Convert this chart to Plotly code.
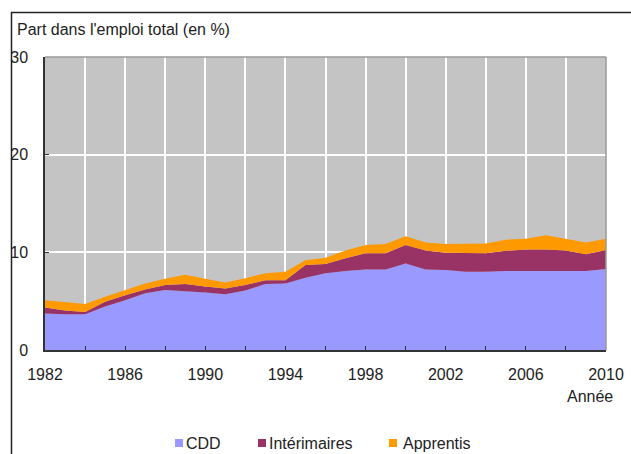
import plotly.graph_objects as go

years = list(range(1982, 2011))
cdd = [3.75, 3.65, 3.65, 4.45, 5.1, 5.8, 6.15, 6.05, 5.9, 5.7, 6.1, 6.75, 6.8, 7.4, 7.85,
       8.1, 8.25, 8.25, 8.85, 8.25, 8.2, 8.0, 8.0, 8.1, 8.1, 8.1, 8.1, 8.1, 8.3]
interim = [0.6, 0.4, 0.25, 0.5, 0.5, 0.4, 0.5, 0.7, 0.6, 0.6, 0.55, 0.4, 0.35, 1.3, 0.95,
           1.3, 1.65, 1.65, 1.9, 1.95, 1.75, 1.9, 1.9, 2.05, 2.2, 2.2, 2.1, 1.7, 1.95]
apprentis = [0.75, 0.85, 0.8, 0.5, 0.55, 0.6, 0.65, 0.95, 0.8, 0.6, 0.7, 0.7, 0.85, 0.5, 0.65,
             0.8, 0.85, 0.95, 0.9, 0.8, 0.9, 0.95, 1.0, 1.15, 1.1, 1.45, 1.2, 1.2, 1.15]

series_names = ["CDD", "Intérimaires", "Apprentis"]
series_colors = ["#9999FF", "#993366", "#FF9900"]
series_values = [cdd, interim, apprentis]

FONT = "Liberation Sans, Arial, sans-serif"
FS = 16
TXT = "#222222"
W, H = 631, 454
L, R, T, B = 45, 25, 57, 104
PW, PH = W - L - R, H - T - B

def px(x):
    return (x - L) / PW

def py(y):
    return (H - B - y) / PH

fig = go.Figure()
for name, color, vals in zip(series_names, series_colors, series_values):
    fig.add_trace(go.Scatter(
        x=years, y=vals, name=name, mode="lines", stackgroup="one",
        line=dict(width=0, color=color), fillcolor=color, showlegend=False,
        hoverinfo="x+y+name",
    ))

shapes = [
    # outer frame (top and left)
    dict(type="rect", xref="paper", yref="paper", x0=px(11.5), x1=px(700), y0=py(12.5), y1=py(520),
         line=dict(color="#222222", width=1.5), fillcolor="rgba(0,0,0,0)", layer="below"),
    # plot border top/right
    dict(type="line", xref="paper", yref="paper", x0=0, x1=1, y0=1, y1=1,
         line=dict(color="#9a9a9a", width=1.5), layer="above"),
    dict(type="line", xref="paper", yref="paper", x0=1, x1=1, y0=0, y1=1,
         line=dict(color="#9a9a9a", width=1.5), layer="above"),
]

annotations = [
    dict(text="Part dans l'emploi total (en %)", xref="paper", yref="paper",
         x=px(15), y=py(30), xanchor="left", yanchor="middle", showarrow=False,
         font=dict(family=FONT, size=FS, color=TXT)),
    dict(text="Année", xref="paper", yref="paper",
         x=px(615), y=py(396), xanchor="right", yanchor="middle", showarrow=False,
         font=dict(family=FONT, size=FS, color=TXT)),
]

legend_sq = [175, 258, 389]
legend_tx = [184, 267, 401]
for name, color, sx, tx in zip(series_names, series_colors, legend_sq, legend_tx):
    shapes.append(dict(type="rect", xref="paper", yref="paper",
                       x0=px(sx), x1=px(sx + 8), y0=py(447), y1=py(439),
                       fillcolor=color, line=dict(width=0)))
    annotations.append(dict(text=name, xref="paper", yref="paper",
                            x=px(tx), y=py(443), xanchor="left", yanchor="middle",
                            showarrow=False,
                            font=dict(family=FONT, size=FS, color=TXT)))

fig.update_layout(
    width=W, height=H,
    margin=dict(l=L, r=R, t=T, b=B, pad=0, autoexpand=False),
    paper_bgcolor="white", plot_bgcolor="#C4C4C4",
    font=dict(family=FONT, size=FS, color=TXT),
    shapes=shapes, annotations=annotations,
    showlegend=False,
    xaxis=dict(
        range=[1982, 2010], tick0=1982, dtick=4, tickformat="d",
        showgrid=True, gridcolor="white", gridwidth=1.5,
        minor=dict(dtick=2, tick0=1982, showgrid=True, gridcolor="white", gridwidth=1.5,
                   ticks="inside", ticklen=4, tickcolor="#333333"),
        ticks="inside", ticklen=4, tickcolor="#333333",
        showline=True, linecolor="#333333", linewidth=1.5,
        zeroline=False, ticklabelstandoff=9,
        tickfont=dict(family=FONT, size=FS, color=TXT),
    ),
    yaxis=dict(
        range=[0, 30], dtick=10,
        showgrid=True, gridcolor="white", gridwidth=1.5,
        ticks="inside", ticklen=4, tickcolor="#333333",
        showline=True, linecolor="#333333", linewidth=1.5,
        zeroline=False, ticklabelstandoff=12,
        tickfont=dict(family=FONT, size=FS, color=TXT),
    ),
)

fig.write_html("out.html", config={"displayModeBar": False},
               post_script="document.body.style.margin='0';document.body.style.overflow='hidden';")
